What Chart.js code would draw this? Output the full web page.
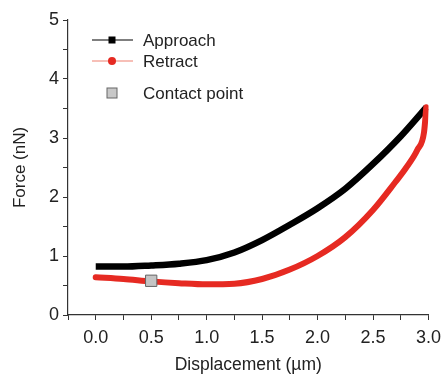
<!DOCTYPE html>
<html>
<head>
<meta charset="utf-8">
<script src="https://cdn.jsdelivr.net/npm/chart.js@4"></script>
<style>
  html, body { margin: 0; padding: 0; background: #fff; }
  #wrap { width: 448px; height: 374px; }
</style>
</head>
<body>
<div id="wrap"><canvas id="viz" width="448" height="374"></canvas></div>
<script>
// series (displacement in µm, force in nN)
const approachX = [0.0, 0.25, 0.5, 0.75, 1.0, 1.25, 1.5, 1.75, 2.0, 2.25, 2.5, 2.75, 2.98];
const approachY = [0.82, 0.82, 0.84, 0.87, 0.93, 1.06, 1.27, 1.53, 1.81, 2.14, 2.56, 3.03, 3.52];

const retractX = [2.98, 2.96, 2.9, 2.8, 2.7, 2.5, 2.25, 2.0, 1.75, 1.5, 1.25, 1.0, 0.75, 0.5, 0.25, 0.0];
const retractY = [3.52, 3.1, 2.8, 2.5, 2.25, 1.78, 1.32, 1.0, 0.77, 0.61, 0.53, 0.52, 0.54, 0.57, 0.61, 0.64];

const contactX = [0.5];
const contactY = [0.58];

const xTickLabels = [0, 0.5, 1, 1.5, 2, 2.5, 3];
const yTickLabels = [0, 1, 2, 3, 4, 5];

const legendItems = ['Approach', 'Retract', 'Contact point'];

const FONT = 'Liberation Sans, Arial, sans-serif';
const INK = '#222';
const RED = '#e62a22';

const pts = (xs, ys) => xs.map((x, i) => ({ x, y: ys[i] }));
const near = (v, list) => list.some(t => Math.abs(t - v) < 1e-6);

// legend drawn by hand: line + marker + label
const legendPlugin = {
  id: 'handLegend',
  afterDraw(chart) {
    const c = chart.ctx;
    const x0 = 92, x1 = 133, mx = 112, tx = 143;
    const rows = [40, 61, 93];
    c.save();
    c.font = '17px ' + FONT;
    c.fillStyle = INK;
    c.textBaseline = 'middle';
    legendItems.forEach((t, i) => c.fillText(t, tx, rows[i] + 1));

    // approach
    c.strokeStyle = '#000'; c.lineWidth = 1.2;
    c.beginPath(); c.moveTo(x0, rows[0]); c.lineTo(x1, rows[0]); c.stroke();
    c.fillStyle = '#000'; c.fillRect(mx - 3.5, rows[0] - 3.5, 7, 7);

    // retract
    c.strokeStyle = '#f08070'; c.lineWidth = 1.2;
    c.beginPath(); c.moveTo(x0, rows[1]); c.lineTo(x1, rows[1]); c.stroke();
    c.fillStyle = RED; c.beginPath(); c.arc(mx, rows[1], 4, 0, Math.PI * 2); c.fill();

    // contact point
    c.fillStyle = '#c8c8c8'; c.strokeStyle = '#666'; c.lineWidth = 1;
    c.fillRect(mx - 5, rows[2] - 5, 10, 10);
    c.strokeRect(mx - 5, rows[2] - 5, 10, 10);
    c.restore();
  }
};

const ctx = document.getElementById('viz').getContext('2d');
new Chart(ctx, {
  type: 'line',
  data: {
    datasets: [
      {
        label: 'Contact point', data: pts(contactX, contactY), order: 0,
        showLine: false, pointStyle: 'rect', pointRadius: 8,
        pointBackgroundColor: '#c4c4c4', pointBorderColor: '#666', pointBorderWidth: 1
      },
      {
        label: 'Retract', data: pts(retractX, retractY), order: 1,
        borderColor: RED, borderWidth: 6, pointRadius: 0, cubicInterpolationMode: 'monotone',
        borderCapStyle: 'round', fill: false
      },
      {
        label: 'Approach', data: pts(approachX, approachY), order: 2,
        borderColor: '#000', borderWidth: 6.5, pointRadius: 0, cubicInterpolationMode: 'monotone',
        borderCapStyle: 'butt', fill: false
      }
    ]
  },
  options: {
    responsive: false,
    animation: false,
    devicePixelRatio: 1,
    layout: { padding: { top: 20, right: 16, left: 0, bottom: 0 } },
    plugins: { legend: { display: false }, tooltip: { enabled: false } },
    scales: {
      x: {
        type: 'linear', min: -0.25, max: 3.0,
        afterFit: s => { s.height = 59; },
        grid: { drawOnChartArea: false, drawTicks: true, tickLength: 5, color: '#333' },
        border: { display: true, color: '#333', width: 1.2 },
        ticks: {
          stepSize: 0.25, autoSkip: false, maxRotation: 0, padding: 7,
          color: INK, font: { family: FONT, size: 18 },
          callback: v => near(v, xTickLabels) ? v.toFixed(1) : ''
        },
        title: { display: true, text: 'Displacement (µm)', color: INK, padding: 0, font: { family: FONT, size: 17.5, lineHeight: 1.0 } }
      },
      y: {
        type: 'linear', min: 0, max: 5,
        afterFit: s => { s.width = 68; },
        grid: { drawOnChartArea: false, drawTicks: true, tickLength: 5, color: '#333' },
        border: { display: true, color: '#333', width: 1.2 },
        ticks: {
          stepSize: 0.5, autoSkip: false, padding: 4,
          color: INK, font: { family: FONT, size: 18 },
          callback: v => near(v, yTickLabels) ? String(v) : ''
        },
        title: { display: true, text: 'Force (nN)', color: INK, padding: 10, font: { family: FONT, size: 17 } }
      }
    }
  },
  plugins: [legendPlugin]
});
</script>
</body>
</html>
